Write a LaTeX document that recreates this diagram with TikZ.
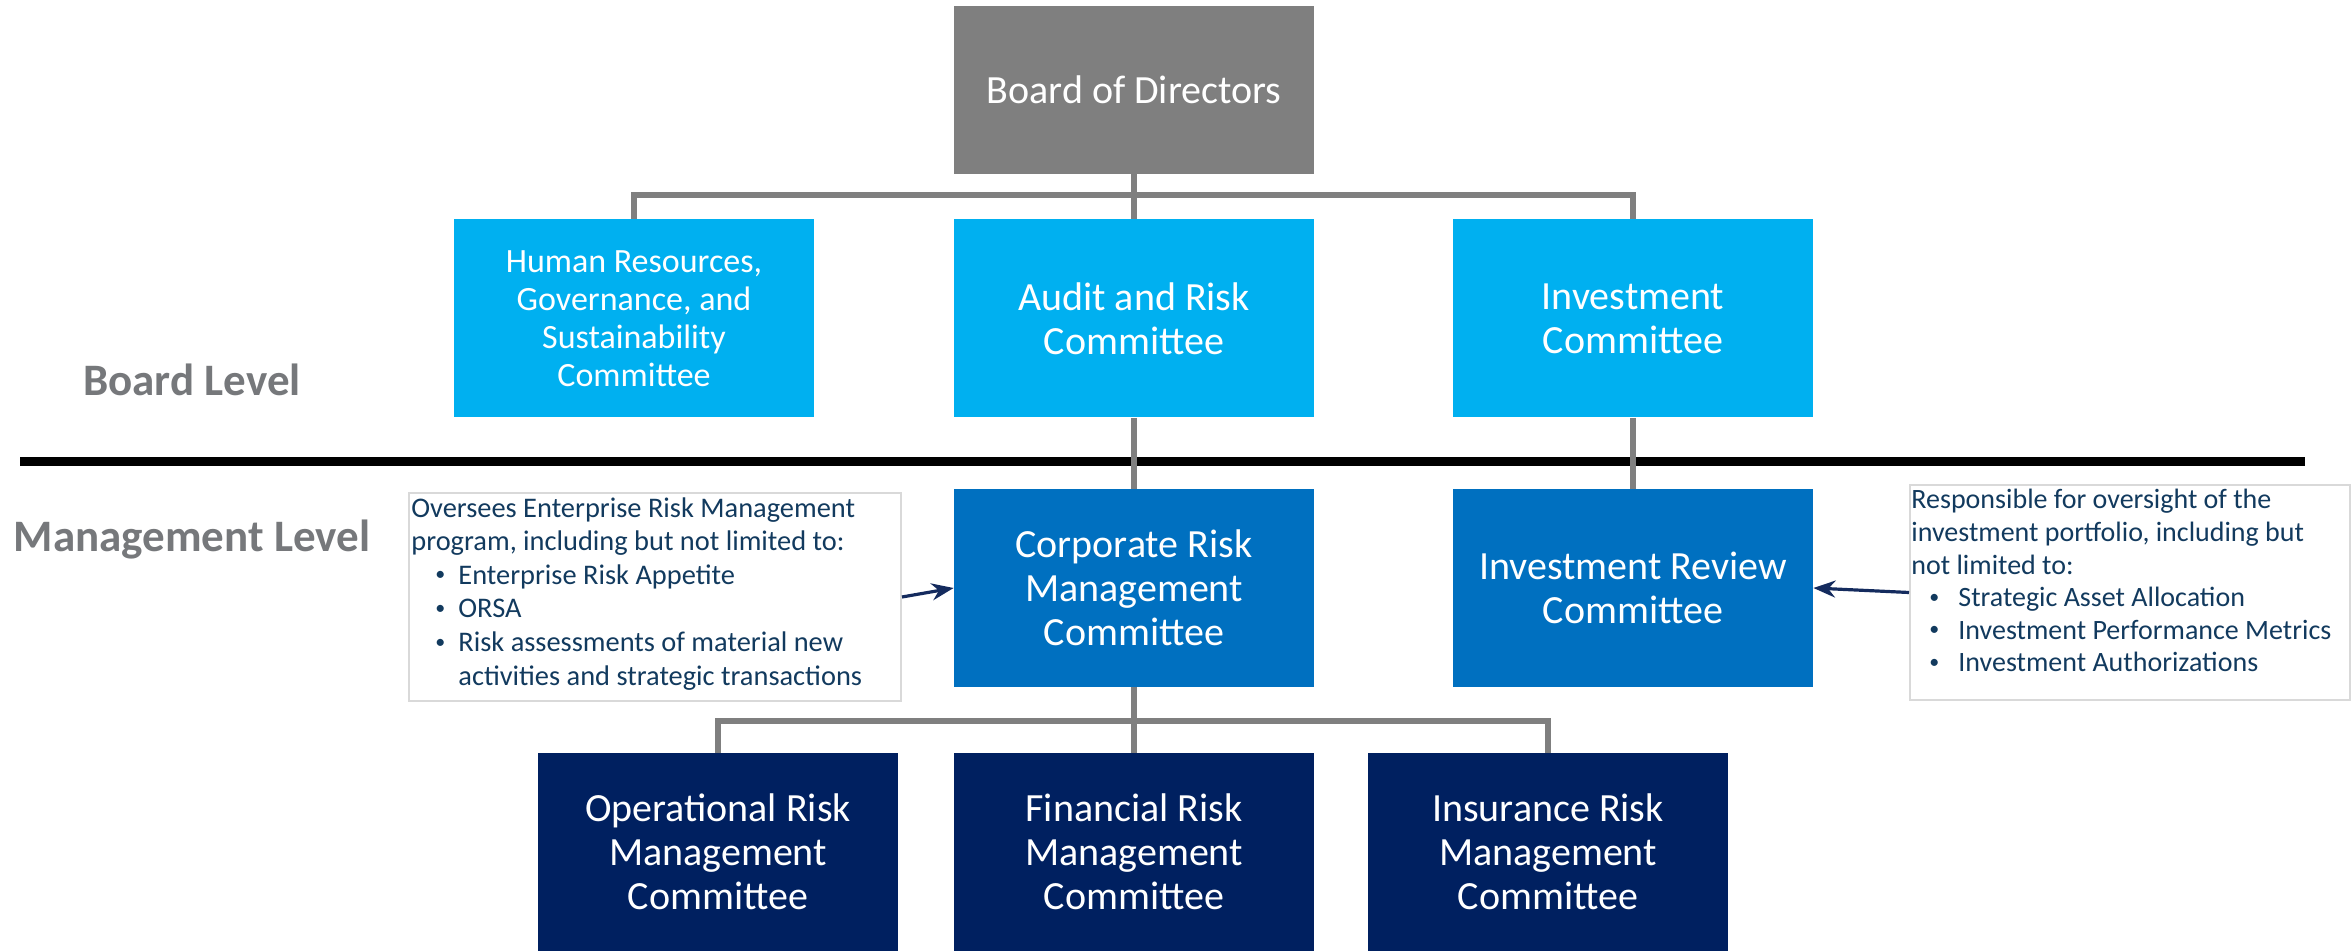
\documentclass[tikz,border=0pt]{standalone}
\usepackage{fontspec}
\setmainfont{Carlito}
\usetikzlibrary{arrows.meta}
\definecolor{bodgray}{HTML}{7F7F7F}
\definecolor{lblue}{HTML}{00B0F0}
\definecolor{mblue}{HTML}{0070C0}
\definecolor{navy}{HTML}{002060}
\definecolor{conn}{HTML}{7F7F7F}
\definecolor{calltext}{HTML}{123A5E}
\definecolor{callborder}{HTML}{D9D9D9}
\definecolor{lvl}{HTML}{76787B}
\definecolor{arrowc}{HTML}{142B5E}
\newcommand{\smbul}{\raisebox{0.12em}{\fontsize{10}{10}\selectfont\textbullet}}
\begin{document}
\begin{tikzpicture}[x=0.5pt,y=-0.5pt,
  box/.style={rectangle, minimum width=180pt, minimum height=99pt, inner sep=0pt,
    text=white, align=center, font=\fontsize{20}{22}\selectfont},
  smallbox/.style={box, font=\fontsize{17}{19}\selectfont},
  connline/.style={draw=conn, line width=3pt},
  lvltext/.style={text=lvl, font=\fontsize{22.5}{26}\selectfont\bfseries, inner sep=0pt},
  callbox/.style={rectangle, draw=callborder, line width=1pt, inner sep=0pt},
  calltxt/.style={text=calltext, align=left, inner sep=0pt},
  arr/.style={draw=arrowc, line width=1.6pt, -{Stealth[length=11pt,width=8.5pt]}}
]
\useasboundingbox (0,0) rectangle (2351,951);

% Board level
\node[box, fill=bodgray, minimum height=84pt] (bod) at (1134,90) {Board of Directors};
\node[smallbox, fill=lblue] (hr) at (634,318.5) {Human Resources,\\Governance, and\\Sustainability\\Committee};
\node[box, fill=lblue] (aud) at (1134,318.5) {Audit and Risk\\Committee};
\node[box, fill=lblue] (inv) at (1633,318.5) {Investment\\Committee};

% Management level
\node[box, fill=mblue] (crmc) at (1134,588) {Corporate Risk\\Management\\Committee};
\node[box, fill=mblue] (irc) at (1633,588) {Investment Review\\Committee};

\node[box, fill=navy] (ormc) at (718,852) {Operational Risk\\Management\\Committee};
\node[box, fill=navy] (frmc) at (1134,852) {Financial Risk\\Management\\Committee};
\node[box, fill=navy] (irmc) at (1548,852) {Insurance Risk\\Management\\Committee};

% level labels and divider
\node[lvltext] (bl) at (192,380) {Board Level};
\node[lvltext] (ml) at (192,540) {Management Level};
\coordinate (divl) at (20,462);
\coordinate (divr) at (2305,462);
\draw[black, line width=4.5pt] (divl) -- (divr);

% connectors
\coordinate (bj) at (1134,195);
\draw[connline] (bod.south) -- (bj);
\draw[connline] (hr.north) |- (bj);
\draw[connline] (inv.north) |- (bj);
\draw[connline] (bj) -- (aud.north);
\draw[connline] (aud.south) -- (crmc.north);
\draw[connline] (inv.south) -- (irc.north);
\coordinate (mj) at (1134,721);
\draw[connline] (crmc.south) -- (mj);
\draw[connline] (ormc.north) |- (mj);
\draw[connline] (irmc.north) |- (mj);
\draw[connline] (mj) -- (frmc.north);

% callouts
\node[callbox, anchor=north west, minimum width=246pt, minimum height=104pt] (lcb) at (408,492) {};
\node[calltxt, anchor=north west, font=\fontsize{14.2}{16.8}\selectfont] (lct) at (411,497)
 {Oversees Enterprise Risk Management\\
  program, including but not limited to:\\
  \hspace*{12pt}\makebox[11.5pt][l]{\smbul}Enterprise Risk Appetite\\
  \hspace*{12pt}\makebox[11.5pt][l]{\smbul}ORSA\\
  \hspace*{12pt}\makebox[11.5pt][l]{\smbul}Risk assessments of material new\\
  \hspace*{23.5pt}activities and strategic transactions};

\node[callbox, anchor=north west, minimum width=220pt, minimum height=107.5pt] (rcb) at (1909,484) {};
\node[calltxt, anchor=north west, font=\fontsize{14}{16.3}\selectfont] (rct) at (1911,489)
 {Responsible for oversight of the\\
  investment portfolio, including but\\
  not limited to:\\
  \hspace*{9pt}\makebox[14.5pt][l]{\smbul}Strategic Asset Allocation\\
  \hspace*{9pt}\makebox[14.5pt][l]{\smbul}Investment Performance Metrics\\
  \hspace*{9pt}\makebox[14.5pt][l]{\smbul}Investment Authorizations};

\draw[arr] (lcb.east) -- (crmc.west);
\draw[arr] (rcb.west) -- (irc.east);
\end{tikzpicture}
\end{document}
